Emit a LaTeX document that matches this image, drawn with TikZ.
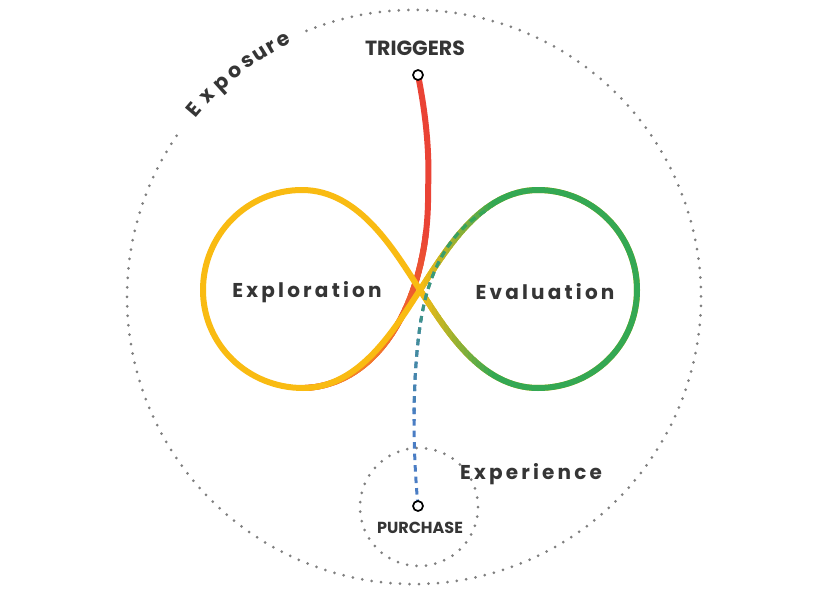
\documentclass[tikz,border=0pt]{standalone}
\usepackage{fontspec}
\setmainfont{Poppins}
\newfontfamily\lblfont[LetterSpace=16]{Poppins}
\newfontfamily\capfont{Poppins}
\usetikzlibrary{calc}
\definecolor{cy}{HTML}{F9BB12}
\definecolor{cg}{HTML}{34A853}
\definecolor{cr}{HTML}{EA4335}
\definecolor{co}{HTML}{F58A24}
\definecolor{cb}{HTML}{4A7DC4}
\definecolor{ct}{HTML}{353535}
\definecolor{cd}{HTML}{7F7F7F}
\newcommand\eightpath{(420,-290) .. controls (395,-252) and (360,-190) .. (302,-190) .. controls (247,-190) and (203,-235) .. (203,-290) .. controls (203,-345) and (248,-388) .. (303,-388) .. controls (360,-388) and (395,-328) .. (420,-290) .. controls (445,-252) and (480,-190) .. (538,-190) .. controls (593,-190) and (637,-235) .. (637,-290) .. controls (637,-345) and (593,-388) .. (538,-388) .. controls (480,-388) and (445,-328) .. (420,-290) -- cycle}
\newcommand\redpath{(trigc) .. controls (425,-110) and (430,-150) .. (428,-190) .. controls (430,-290) and (385,-384) .. (305,-388)}
\newcommand\bluepath{(purc) .. controls (410,-420) and (415,-340) .. (425,-300) .. controls (435,-260) and (455,-228) .. (evt)}
\tikzset{
  lbl/.style={font=\lblfont\bfseries\fontsize{20}{23}\selectfont, text=ct, inner sep=0pt},
  caplbl/.style={font=\capfont\bfseries\fontsize{20.5}{23}\selectfont, text=ct, inner sep=0pt},
  smallcap/.style={font=\capfont\bfseries\fontsize{16}{18}\selectfont, text=ct, inner sep=0pt},
  ring/.style={cd, line width=3pt, line cap=round, dash pattern=on 0pt off 9.5pt},
  endpt/.style={circle, draw=black, line width=1.7pt, fill=white, inner sep=0pt, minimum size=10pt},
  loopline/.style={line width=6pt, line cap=round, line join=round},
  dashline/.style={line width=3pt, dash pattern=on 6.5pt off 5pt}
}
\begin{document}
\begin{tikzpicture}[x=1pt,y=1pt]
\useasboundingbox (0,0) rectangle (820,-597);
\coordinate (trigc) at (418,-75);
\coordinate (purc) at (418,-506);
\coordinate (evt) at (487,-210);
\coordinate (ctr) at (414,-297);
% outer dotted ring with gap for the label
\draw[ring] ($(ctr)+(112:287)$) arc[start angle=112, end angle=-215, radius=287];
% inner dotted ring
\draw[ring] (419,-507) circle[radius=59];
% Exposure letters along the arc
\foreach \ch/\ang [count=\i] in {E/139.5,x/135.8,p/132,o/128.4,s/125.2,u/122.3,r/119.7,e/117}{
  \node[font=\bfseries\fontsize{20.5}{23}\selectfont, text=ct, inner sep=0pt, anchor=base, rotate=\ang-90] (exp\i) at ($(ctr)+(\ang:282)$) {\ch};
}
% red trigger curve with gradient to orange
\draw[cr, loopline] \redpath;
\foreach \i in {0,...,23}{
  \pgfmathsetmacro\ya{-230-7*\i}
  \pgfmathtruncatemacro\pc{100*(\i+0.5)/24}
  \begin{scope}
    \clip (0,\ya) rectangle (820,\ya-7.3);
    \draw[co!\pc!cr, loopline] \redpath;
  \end{scope}
}
\begin{scope}
  \clip (0,-397) rectangle (820,-597);
  \draw[co, loopline] \redpath;
\end{scope}
% figure eight
\draw[cy, loopline] \eightpath;
\foreach \i in {0,...,17}{
  \pgfmathsetmacro\xa{420+4*\i}
  \pgfmathtruncatemacro\pc{100*(\i+0.5)/18}
  \begin{scope}
    \clip (\xa,0) rectangle (\xa+4.3,-597);
    \draw[cg!\pc!cy, loopline] \eightpath;
  \end{scope}
}
\begin{scope}
  \clip (492,0) rectangle (820,-597);
  \draw[cg, loopline] \eightpath;
\end{scope}
% dashed purchase curve with gradient blue to green
\draw[cb, dashline] \bluepath;
\foreach \i in {0,...,19}{
  \pgfmathsetmacro\ya{-420+10*\i}
  \pgfmathtruncatemacro\pc{100*(\i+0.5)/20}
  \begin{scope}
    \clip (0,\ya) rectangle (820,\ya+10.3);
    \draw[cg!\pc!cb, dashline] \bluepath;
  \end{scope}
}
\begin{scope}
  \clip (0,-220) rectangle (820,0);
  \draw[cg, dashline] \bluepath;
\end{scope}
% end point markers
\node[endpt] (trig) at (trigc) {};
\node[endpt] (purch) at (purc) {};
% labels
\node[caplbl] (trigl) at (415,-48) {TRIGGERS};
\node[smallcap] (purl) at (420,-528) {PURCHASE};
\node[lbl] (explo) at (307,-292) {Exploration};
\node[lbl] (evalu) at (545,-292) {Evaluation};
\node[lbl] (exper) at (531,-474) {Experience};
\end{tikzpicture}
\end{document}
